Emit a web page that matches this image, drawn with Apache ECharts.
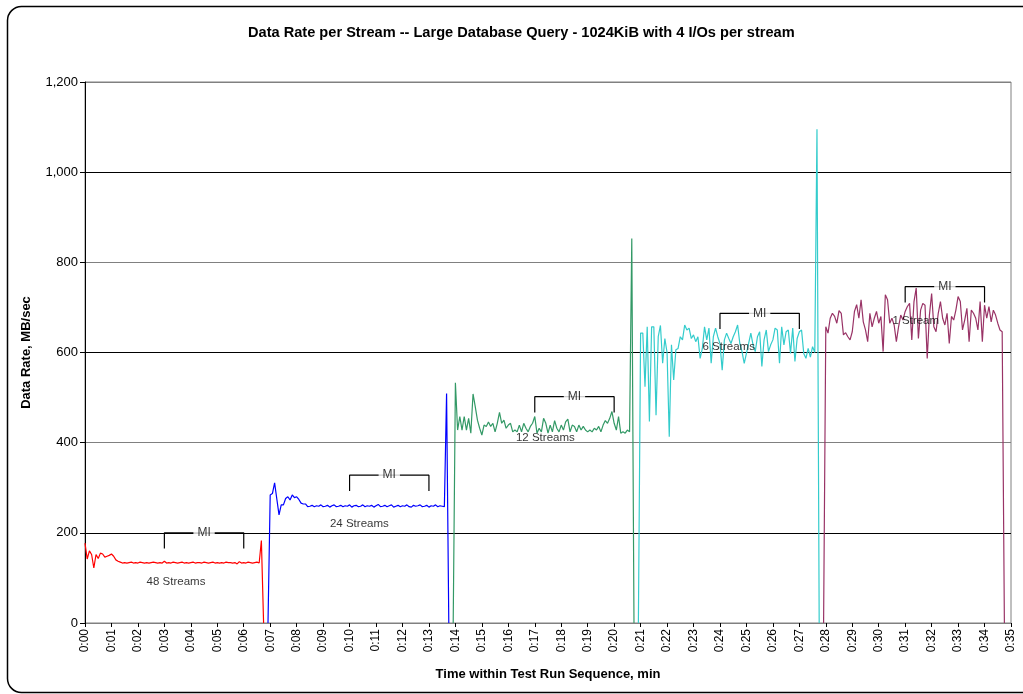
<!DOCTYPE html>
<html>
<head>
<meta charset="utf-8">
<script src="https://cdn.jsdelivr.net/npm/echarts@6/dist/echarts.min.js"></script>
<style>
html, body { margin: 0; padding: 0; background: #fff; }
#chart { width: 1023px; height: 694px; }
</style>
</head>
<body>
<div id="chart"></div>
<script>
// samples every 5 s; each series starts at the given second
var stepSec = 5;

var xTickLabels = ['0:00','0:01','0:02','0:03','0:04','0:05','0:06','0:07','0:08','0:09',
  '0:10','0:11','0:12','0:13','0:14','0:15','0:16','0:17','0:18','0:19',
  '0:20','0:21','0:22','0:23','0:24','0:25','0:26','0:27','0:28','0:29',
  '0:30','0:31','0:32','0:33','0:34','0:35'];

var streams48Start = 0;
var streams48 = [177,142,160,152,122,152,143,155,153,146,148,150,153,148,140,137,135,133,
  134,133,134,135,133,134,133,135,134,133,134,133,134,135,134,133,134,133,
  137,133,134,133,135,134,133,134,135,133,134,133,134,135,133,134,134,133,
  135,134,133,134,135,133,134,133,134,133,135,134,134,133,134,131,136,133,
  134,133,135,134,133,134,135,133,183,0];

var streams24Start = 415;
var streams24 = [0,284,287,311,275,240,262,262,276,280,273,284,278,280,274,266,264,264,258,
  259,261,258,260,259,262,258,259,261,257,
  260,262,258,259,261,258,260,259,262,257,
  260,261,258,259,262,258,260,259,261,257,
  260,263,258,259,261,258,260,262,257,259,
  261,258,260,259,262,258,257,261,259,260,
  262,258,259,261,257,260,259,262,258,260,
  259,258,509,0];

var streams12Start = 835;
var streams12 = [0,533,428,458,428,458,428,454,421,508,480,
  450,432,417,439,436,446,436,443,424,443,
  467,443,450,432,439,443,424,428,424,439,
  424,443,432,424,436,443,458,421,432,424,
  454,443,421,439,424,449,432,424,439,428,
  446,452,424,439,436,424,439,428,436,428,
  424,428,424,432,428,436,424,439,449,443,
  454,469,443,428,458,421,424,421,428,424,
  853,0];

var streams6Start = 1255;
var streams6 = [0,643,643,524,657,447,657,657,461,635,660,
  576,631,600,413,617,539,606,609,635,628,
  661,650,654,631,639,624,635,587,609,657,
  628,654,576,635,654,635,620,561,628,643,
  631,620,635,646,661,620,602,576,598,620,
  643,617,602,635,646,569,628,650,602,617,
  628,654,650,576,657,617,646,650,598,654,
  580,631,646,650,598,587,609,590,613,600,
  1095,0];

var streams1Start = 1675;
var streams1 = [0,657,643,676,687,680,665,693,687,639,644,
  635,628,646,691,706,676,717,668,650,624,
  687,657,676,691,665,680,602,728,717,665,
  676,661,624,657,683,672,691,702,709,628,
  713,743,631,694,709,705,587,683,731,657,
  646,687,713,676,661,687,620,680,672,694,
  724,713,650,672,698,624,694,687,676,650,
  713,624,705,676,702,668,694,683,665,650,
  646,0];

// measurement-interval brackets (minutes) and their height (MB/sec)
var miFrom = [3, 10, 17, 24, 31];
var miTo = [6, 13, 20, 27, 34];
var miLevel = [200, 328, 502, 687, 746];
var miDrop = 35;

// stream count notes (minutes, MB/sec)
var noteText = ['48 Streams', '24 Streams', '12 Streams', '6 Streams', '1 Stream'];
var noteX = [3.44, 10.37, 17.4, 24.33, 31.4];
var noteY = [91, 220, 410, 613, 670];

function toPoints(startSec, values) {
  return values.map(function (v, i) {
    return [(startSec + i * stepSec) / 60, v];
  });
}

function dataLine(name, color, startSec, values) {
  return {
    name: name,
    type: 'line',
    data: toPoints(startSec, values),
    showSymbol: false,
    symbol: 'none',
    lineStyle: { color: color, width: 1.2 },
    z: 2
  };
}

var dom = document.getElementById('chart');
var myChart = echarts.init(dom);
var font = 'Liberation Sans, Arial, sans-serif';

var series = [
  dataLine('48 Streams', '#FF0000', streams48Start, streams48),
  dataLine('24 Streams', '#0000FF', streams24Start, streams24),
  dataLine('12 Streams', '#339966', streams12Start, streams12),
  dataLine('6 Streams', '#33CCCC', streams6Start, streams6),
  dataLine('1 Stream', '#993366', streams1Start, streams1)
];

miFrom.forEach(function (f, i) {
  var t = miTo[i], lv = miLevel[i];
  series.push({
    type: 'line',
    data: [[f, lv - miDrop], [f, lv], [t, lv], [t, lv - miDrop]],
    showSymbol: false,
    symbol: 'none',
    lineStyle: { color: '#000', width: 1.2 },
    z: 4
  });
});

series.push({
  type: 'scatter',
  symbolSize: 0,
  data: miFrom.map(function (f, i) { return [(f + miTo[i]) / 2, miLevel[i]]; }),
  label: {
    show: true,
    position: 'inside',
    formatter: 'MI',
    color: '#000',
    fontFamily: font,
    fontSize: 12,
    backgroundColor: '#fff',
    padding: [1, 4]
  },
  z: 6
});

series.push({
  type: 'scatter',
  symbolSize: 0,
  data: noteText.map(function (n, i) { return [noteX[i], noteY[i], n]; }),
  label: {
    show: true,
    position: 'inside',
    formatter: function (p) { return p.value[2]; },
    color: '#000',
    fontFamily: font,
    fontSize: 11.5
  },
  z: 6
});

var option = {
  animation: false,
  backgroundColor: '#fff',
  title: {
    text: 'Data Rate per Stream -- Large Database Query - 1024KiB with 4 I/Os per stream',
    left: 243,
    top: 20,
    textStyle: { fontFamily: font, fontSize: 14.6, fontWeight: 'bold', color: '#000' }
  },
  grid: {
    left: 85,
    right: 12,
    top: 82,
    bottom: 71,
    show: true,
    borderColor: '#808080',
    borderWidth: 1
  },
  xAxis: {
    type: 'value',
    min: 0,
    max: 35,
    interval: 1,
    name: 'Time within Test Run Sequence, min',
    nameLocation: 'middle',
    nameGap: 45,
    nameTextStyle: { fontFamily: font, fontSize: 13, fontWeight: 'bold', color: '#000' },
    axisLine: { show: true, lineStyle: { color: '#808080', width: 1 } },
    axisTick: { show: true, length: 4, lineStyle: { color: '#000' } },
    axisLabel: {
      rotate: 90,
      margin: 6,
      fontFamily: font,
      fontSize: 12,
      color: '#000',
      formatter: function (v) { return xTickLabels[Math.round(v)]; }
    },
    splitLine: { show: false }
  },
  yAxis: {
    type: 'value',
    min: 0,
    max: 1200,
    interval: 200,
    name: 'Data Rate, MB/sec',
    nameLocation: 'middle',
    nameGap: 52,
    nameTextStyle: { fontFamily: font, fontSize: 13, fontWeight: 'bold', color: '#000' },
    axisLine: { show: true, lineStyle: { color: '#000', width: 1 } },
    axisTick: { show: true, length: 5, lineStyle: { color: '#000' } },
    axisLabel: {
      margin: 7,
      fontFamily: font,
      fontSize: 13,
      color: '#000',
      formatter: function (v) { return v.toLocaleString('en-US'); }
    },
    splitLine: { show: true, lineStyle: { color: ['#808080', '#000'], width: 1 } }
  },
  graphic: [{
    type: 'rect',
    shape: { x: 7.5, y: 6.5, width: 1045, height: 686, r: 14 },
    style: { fill: 'none', stroke: '#000', lineWidth: 1.5 },
    silent: true,
    z: -1
  }],
  series: series
};

if (option && typeof option === 'object') {
  myChart.setOption(option);
}
</script>
</body>
</html>
